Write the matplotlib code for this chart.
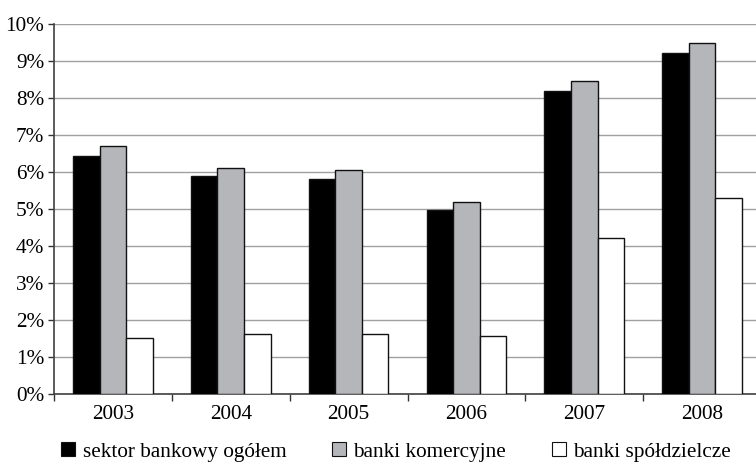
import matplotlib
matplotlib.use("Agg")
import matplotlib.pyplot as plt
import numpy as np
from matplotlib.patches import Patch

years = ["2003", "2004", "2005", "2006", "2007", "2008"]
sektor = [6.42, 5.88, 5.81, 4.98, 8.19, 9.21]
komercyjne = [6.70, 6.11, 6.06, 5.20, 8.46, 9.48]
spoldzielcze = [1.52, 1.62, 1.62, 1.56, 4.22, 5.30]
series_names = ["sektor bankowy ogółem", "banki komercyjne", "banki spółdzielcze"]
yticks = [0, 1, 2, 3, 4, 5, 6, 7, 8, 9, 10]

plt.rcParams['font.family'] = ['Liberation Serif', 'DejaVu Serif']
FS = 15.3

fig = plt.figure(figsize=(7.56, 4.62), dpi=100)
ax = fig.add_axes([54/756, 68/462, 707/756, 370/462])

x = np.arange(len(years))
w = 0.225
colors = ["#000000", "#b5b6b9", "#ffffff"]
for i, (vals, c) in enumerate(zip([sektor, komercyjne, spoldzielcze], colors)):
    ax.bar(x + (i - 1) * w, vals, width=w, color=c, edgecolor="#111111", linewidth=1.0, zorder=3)

ax.set_xlim(-0.5, len(years) - 0.5)
ax.set_ylim(0, 10)
ax.set_yticks(yticks)
ax.set_yticklabels([f"{v}%" for v in yticks], fontsize=FS)
ax.yaxis.grid(True, color="#a0a0a0", linewidth=1.0, zorder=0)
ax.set_axisbelow(True)

ax.set_xticks(np.arange(-0.5, len(years), 1.0))
ax.set_xticklabels([])
ax.set_xticks(x, minor=True)
ax.set_xticklabels(years, minor=True, fontsize=FS)
ax.tick_params(axis="x", which="major", length=5, direction="out", color="#333333", width=1)
ax.tick_params(axis="x", which="minor", length=0, pad=8)
ax.tick_params(axis="y", length=4, direction="out", color="#333333", width=1, pad=3)

for s in ["top", "right"]:
    ax.spines[s].set_visible(False)
ax.spines["left"].set_color("#404040")
ax.spines["bottom"].set_color("#404040")
ax.spines["left"].set_linewidth(1.2)
ax.spines["bottom"].set_linewidth(1.2)

handles = [Patch(facecolor=c, edgecolor="#111111", linewidth=0.8) for c in colors]
fig.legend(handles, series_names, loc="center", bbox_to_anchor=(396/756, 10/462), ncol=3,
           frameon=False, fontsize=FS, handlelength=0.65, handleheight=0.65,
           handletextpad=0.35, columnspacing=2.15, borderpad=0.2)

fig.savefig("out.png", dpi=100)
